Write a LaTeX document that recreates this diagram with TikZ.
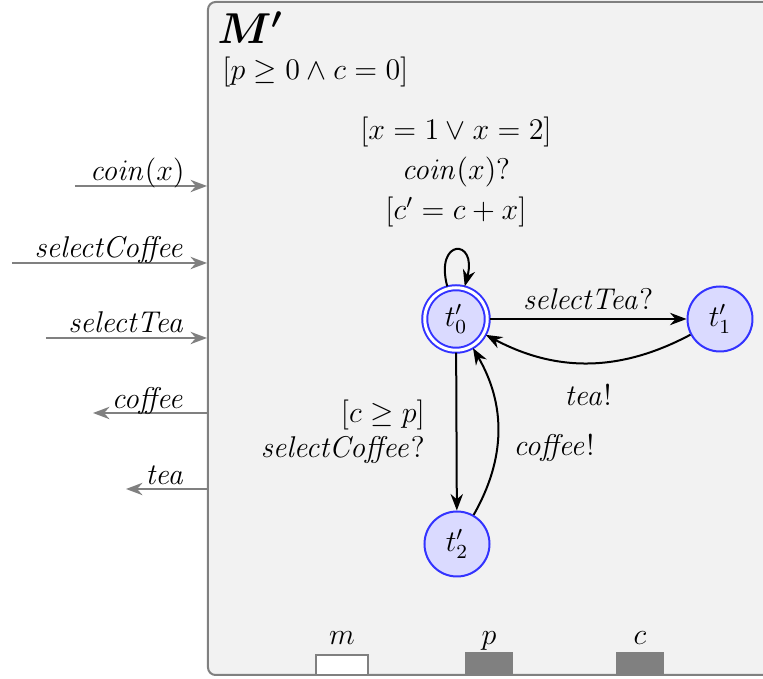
\documentclass[tikz,border=0pt]{standalone}
\usepackage{amsmath}
\usetikzlibrary{arrows.meta,positioning}
\definecolor{panelbg}{HTML}{F2F2F2}
\definecolor{locfill}{HTML}{DADAFF}
\definecolor{locline}{HTML}{3333FF}
\definecolor{portgray}{HTML}{808080}

\begin{document}
\begin{tikzpicture}[x=0.4pt,y=0.4pt,>=Stealth,font=\large,loc/.style={circle,draw=locline,fill=locfill,thick,minimum size=26pt,inner sep=0pt},initloc/.style={loc,double=white,double distance=1.2pt,minimum size=25pt,outer sep=1pt},arrow/.style={->,thick},port/.style={->,thick,draw=portgray},portlabel/.style={anchor=base east,inner sep=0pt},var/.style={anchor=south,minimum width=20pt,minimum height=8pt,inner sep=0pt},varname/.style={anchor=base,inner sep=0pt}]
\useasboundingbox (0,0) rectangle (763,-679);
\draw[portgray,thick,fill=panelbg,rounded corners=3pt] (208,-2) rectangle (800,-675);
\node[anchor=base west,inner sep=0pt,font=\fontsize{18.5pt}{22pt}\selectfont] (title) at (217,-44) {$\boldsymbol{M^{\prime}}$};
\node[anchor=north west,inner sep=0pt] (inv) at (222,-57) {$[p \geq 0 \wedge c = 0]$};
% ports
\coordinate (coinA) at (75,-186); \coordinate (coinB) at (207,-186); \draw[port] (coinA)--(coinB); \node[portlabel] (coinL) at (185,-181) {$\mathit{coin}(x)$};
\coordinate (selCA) at (12,-263); \coordinate (selCB) at (207,-263); \draw[port] (selCA)--(selCB); \node[portlabel] (selCL) at (185,-258) {$\mathit{selectCoffee}$};
\coordinate (selTA) at (46,-338); \coordinate (selTB) at (207,-338); \draw[port] (selTA)--(selTB); \node[portlabel] (selTL) at (185,-333) {$\mathit{selectTea}$};
\coordinate (coffeeA) at (207,-413); \coordinate (coffeeB) at (93,-413); \draw[port] (coffeeA)--(coffeeB); \node[portlabel] (coffeeL) at (185,-409) {$\mathit{coffee}$};
\coordinate (teaA) at (207,-489); \coordinate (teaB) at (126,-489); \draw[port] (teaA)--(teaB); \node[portlabel] (teaL) at (185,-485) {$\mathit{tea}$};
% locations
\node[initloc] (t0) at (456,-319) {$t^{\prime}_0$}; \node[loc] (t1) at (720,-319) {$t^{\prime}_1$}; \node[loc] (t2) at (457,-544) {$t^{\prime}_2$};
\draw[arrow] (t0) to[out=105,in=75,min distance=20pt] (t0);
\node[align=center] (loopL) at (456,-172) {$[x = 1 \vee x = 2]$\\[2pt]$\mathit{coin}(x)?$\\[2pt]$[c^{\prime} = c + x]$};
\draw[arrow] (t0)--node[above] (tl01) {$\mathit{selectTea}?$} (t1);
\draw[arrow] (t1) to[bend left=28] node[below=5pt] (tl10) {$\mathit{tea}!$} (t0);
\draw[arrow] (t0)--node[left=9pt,align=right] (tl02) {$[c \geq p]$\\$\mathit{selectCoffee}?$} (t2);
\draw[arrow] (t2) to[bend right=30] node[right=3pt,pos=0.4] (tl20) {$\mathit{coffee}!$} (t0);
% variables
\node[var,draw=portgray,thick,fill=white,minimum width=21pt] (m) at (342,-676) {}; \node[varname] (mName) at (342,-645) {$m$};
\node[var,fill=portgray,minimum width=19pt,minimum height=9pt] (p) at (489,-675) {}; \node[varname] (pName) at (489,-645) {$p$};
\node[var,fill=portgray,minimum width=19pt,minimum height=9pt] (c) at (640,-675) {}; \node[varname] (cName) at (640,-645) {$c$};
\end{tikzpicture}
\end{document}
